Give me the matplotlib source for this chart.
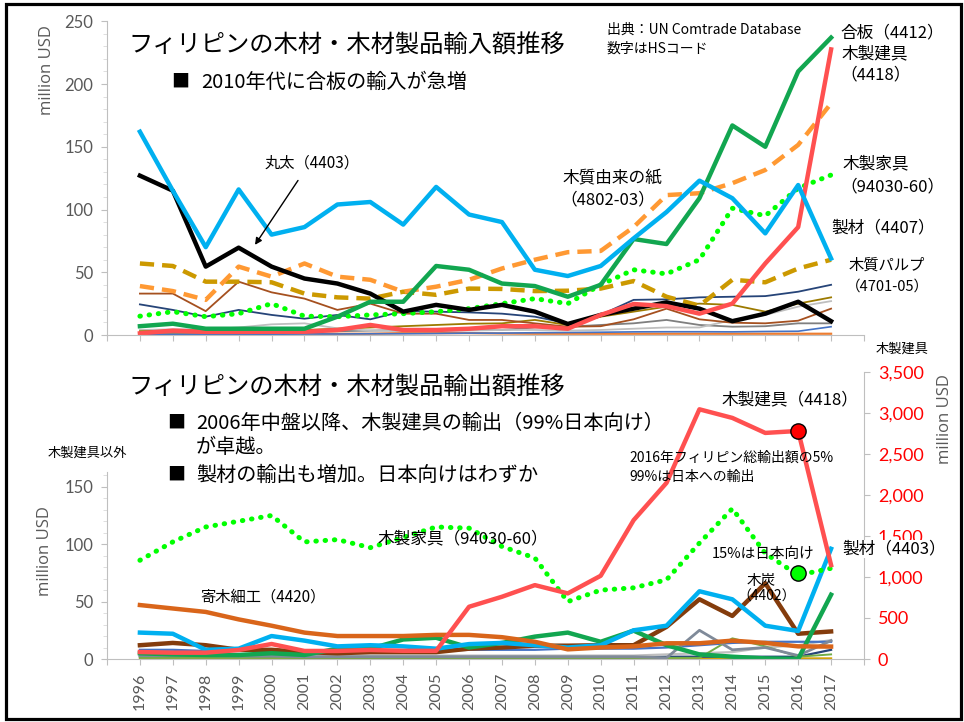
import matplotlib
matplotlib.use("Agg")
import matplotlib.pyplot as plt
from matplotlib.patches import Rectangle
from matplotlib.ticker import MultipleLocator, FixedLocator, FuncFormatter

plt.rcParams["font.family"] = ["Noto Sans CJK JP", "DejaVu Sans"]

W, H = 964, 722

years = list(range(1996, 2018))

# ---- imports (million USD) ----
imp_sawn = [162, 115, 70, 116, 80, 86, 104, 106, 88, 118, 96, 90, 52, 47, 55, 77, 98, 123, 109, 81, 119.5, 61]
imp_logs = [127, 115, 54.5, 69.6, 54.5, 45, 41, 33, 18.6, 24, 20, 24, 18.6, 8.8, 16, 21, 26, 21, 11, 17, 26.5, 11]
imp_plywood = [7, 9, 5, 5, 5, 5, 14.6, 26.5, 26.5, 55, 52, 41, 39, 30.5, 40, 76.5, 72.5, 109, 167, 150, 210, 237]
imp_joinery = [1.3, 3.5, 2.5, 2.5, 2.6, 2.6, 4, 8, 4, 4, 5, 7, 7, 5, 16, 24.7, 23, 17, 25, 57, 86, 227.6]
imp_paper = [39, 35, 28, 54.5, 46.5, 57, 46.5, 44, 34.5, 38.5, 44, 53, 60, 66, 67, 86, 111.5, 113, 121, 131.5, 151.5, 184.6]
imp_pulp = [57, 55, 42.5, 42.5, 42, 33, 30, 29, 34.5, 32, 37, 36.7, 35, 35.3, 37, 43, 30.5, 23.4, 44, 42, 53, 60]
imp_furniture = [15, 18.6, 14.6, 17, 25, 15, 14.6, 16, 17, 18.6, 21, 25, 29, 25, 40, 52, 48.7, 60, 101, 95, 117, 127.5]
imp_brown = [33, 33, 19, 42.5, 34, 29, 20, 25, 17, 17, 12, 12, 9.3, 6.6, 7, 12.5, 21, 12.5, 9.8, 9.3, 11.4, 21]
imp_navy = [24.4, 20, 14.6, 20, 16, 13, 16, 12.5, 19, 18.6, 18, 17, 14.6, 9.3, 16, 28, 28.4, 30, 30.5, 31, 34.5, 40]
imp_olive = [3, 3.5, 4, 4.5, 4.5, 4, 5, 6, 7, 8, 9, 9.3, 12, 8, 14.6, 18.6, 22.6, 25, 24, 18.6, 25, 30]
imp_lightgray = [4, 4.5, 4.5, 6, 8.5, 9.3, 5.3, 3.5, 3, 3, 3.5, 4, 4, 3.5, 4, 5, 6, 6, 12, 16, 22.6, 27]
imp_gray = [2, 2, 2, 2.5, 3, 3, 3, 3.5, 4, 4, 4, 4, 6, 6.6, 8, 9.3, 12, 8, 6.6, 7, 9.3, 9.3]
imp_blue = [0.5, 0.5, 0.5, 0.6, 0.6, 0.8, 0.8, 1, 1, 1.2, 1.5, 1.5, 1.8, 2, 2.2, 2.5, 2.6, 2.6, 2.5, 2.8, 3, 6.6]
imp_orange = [1, 1, 1, 1, 1.2, 1.2, 1, 1, 1.5, 1.5, 1.5, 1.2, 1, 1, 1, 1, 1, 1, 1, 1, 1, 1]

# ---- exports (million USD) ----
exp_joinery = [85, 77, 77, 110, 183, 98, 98, 110, 100, 100, 637, 759, 901, 800, 1015, 1693, 2148, 3045, 2940, 2757, 2781, 1145]
exp_furniture = [86, 102, 115, 120, 125, 102, 104, 97, 106, 115, 114, 98, 88, 50, 60, 62, 69, 101, 131, 92, 73, 79]
exp_parquetry = [47, 44, 41, 34.5, 29, 23, 20, 20, 20, 21, 21, 19, 15, 8.4, 10, 11, 13.7, 13.7, 16, 14, 11, 10.8]
exp_sawn = [23, 22, 8, 9, 20, 16, 11, 12, 11, 9, 13, 14, 12, 10, 12, 25, 29, 59, 52, 29, 24.4, 96]
exp_plywood = [5, 4, 3.5, 3.5, 5, 3.5, 9, 9, 17, 18.5, 10, 14, 19.5, 23, 15, 24.7, 12, 4, 2, 0.5, 0, 56]
exp_charcoal = [12, 14, 12, 8, 8, 6, 5, 6, 6, 6, 9, 10, 11.6, 11.6, 12, 12, 28, 52, 37.5, 66, 22, 24]
exp_gray = [3, 3, 3, 2.5, 2.5, 2, 2, 2, 2, 2, 2, 2, 2, 2, 2, 2, 1, 25, 8, 10, 3, 16]
exp_lightgreen = [1, 1, 1, 1, 1, 1, 1, 1, 1, 1, 1, 1, 1, 1, 1, 1, 1, 1, 18, 11, 2, 4]
exp_blue = [8, 8, 7, 7, 7, 6, 6, 7, 7, 7, 8, 8, 8, 9, 9, 9, 10, 12, 14, 15, 15, 15]
exp_navy = [2, 2, 2, 2, 2, 1.5, 1.5, 1.5, 1.5, 1.5, 1.5, 1.5, 1.5, 1.5, 1.5, 1.5, 2, 2, 2, 2, 2, 8]
exp_lightgray = [3, 3, 3, 3, 3, 3, 3, 3, 3, 3, 3, 3, 3, 3, 3, 3, 4, 5, 6, 10, 12, 16.5]
exp_gold = [0.5, 0.5, 0.5, 1, 0.5, 0.5, 0.5, 0.5, 0.5, 0.5, 0.5, 0.5, 0.5, 0.5, 0.5, 0.5, 0.5, 0.5, 0.5, 0.5, 0.5, 0.5]

GRAY = "#bfbfbf"
TXT = "#595959"
DOT = dict(linestyle=(0, (0.1, 1.75)), lw=3.6, dash_capstyle="round")
DASH = dict(linestyle=(0, (3.2, 1.8)), lw=3.2)


def px(x, y):
    return x / W, 1 - y / H


def label(x, y, s, size=12, **kw):
    return fig.text(*px(x, y), s, fontsize=size, ha="left", va="center", **kw)


def style_axes(ax):
    for s in ["top", "right"]:
        ax.spines[s].set_visible(False)
    ax.spines["left"].set_color(GRAY)
    ax.spines["bottom"].set_color(GRAY)
    ax.set_xlim(1995, 2018)
    ax.set_xticks(range(1995, 2019))
    ax.tick_params(colors=GRAY, labelcolor=TXT, direction="out", length=4,
                   labelfontfamily="Lato")
    ax.tick_params(axis="y", labelsize=12, pad=6)
    ax.tick_params(axis="y", which="minor", length=3, color="#d9d9d9")
    ax.patch.set_alpha(0)


fig = plt.figure(figsize=(W / 100, H / 100), dpi=100)

# ================= imports =================
ax1 = fig.add_axes([107 / W, 1 - 335 / H, (864 - 107) / W, (335 - 21.3) / H])
style_axes(ax1)
ax1.set_ylim(0, 250)
ax1.yaxis.set_major_locator(MultipleLocator(50))
ax1.yaxis.set_minor_locator(MultipleLocator(10))
ax1.set_xticklabels([])

ax1.plot(years, imp_orange, color="#ED7D31", lw=1.6)
ax1.plot(years, imp_blue, color="#4472C4", lw=1.2)
ax1.plot(years, imp_gray, color="#7f7f7f", lw=1.3)
ax1.plot(years, imp_lightgray, color="#bfbfbf", lw=1.3)
ax1.plot(years, imp_olive, color="#9C7A00", lw=1.3)
ax1.plot(years, imp_navy, color="#264478", lw=1.3)
ax1.plot(years, imp_brown, color="#A5501F", lw=1.3)
ax1.plot(years, imp_furniture, color="#00FF00", **DOT)
ax1.plot(years, imp_pulp, color="#CC9900", **DASH)
ax1.plot(years, imp_paper, color="#FF9933", **DASH)
ax1.plot(years, imp_logs, color="black", lw=3.2)
ax1.plot(years, imp_joinery, color="#FF5050", lw=3.2)
ax1.plot(years, imp_plywood, color="#12A650", lw=3.2)
ax1.plot(years, imp_sawn, color="#00B0F0", lw=3.2)

ax1.annotate("", xy=(1999.45, 70), xytext=(2000.85, 125),
             arrowprops=dict(arrowstyle="-|>", color="black", lw=1, mutation_scale=10))

fig.text(*px(47, 25), "million USD", rotation=90, fontsize=12, color=TXT,
         ha="center", va="top", family="Open Sans")

label(128, 46, "フィリピンの木材・木材製品輸入額推移", size=17.5)
label(171, 82, "■", size=13)
label(201, 82, "2010年代に合板の輸入が急増", size=14.5)
label(607, 30, "出典：UN Comtrade Database", size=10)
label(607, 49, "数字はHSコード", size=10)
label(840, 33, "合板（4412）", size=12)
label(842, 54, "木製建具", size=12)
label(840, 75, "（4418）", size=12)
label(563, 178, "木質由来の紙", size=12)
label(560, 200, "（4802-03）", size=12)
label(843, 164, "木製家具", size=12)
label(840, 187, "（94030-60）", size=12)
label(831, 228, "製材（4407）", size=12)
label(849, 265, "木質パルプ", size=11)
label(846, 287, "（4701-05）", size=10.5)
label(265, 163, "丸太（4403）", size=11)

# ================= exports =================
ax3 = fig.add_axes([107 / W, 1 - 659 / H, (864 - 107) / W, (659 - 372) / H])
style_axes(ax3)
ax3.set_ylim(0, 250)
ax3.yaxis.set_major_locator(FixedLocator([0, 50, 100, 150]))
ax3.yaxis.set_minor_locator(FixedLocator(list(range(0, 161, 10))))
ax3.spines["left"].set_bounds(0, 163)
ax3.set_xticklabels([""] + [str(y) for y in years] + [""], rotation=90)
ax3.tick_params(axis="x", labelsize=11.5, pad=6)

ax3.plot(years, exp_gold, color="#D4A000", lw=1.6)
ax3.plot(years, exp_navy, color="#264478", lw=1.6)
ax3.plot(years, exp_lightgray, color="#bfbfbf", lw=1.6)
ax3.plot(years, exp_blue, color="#4472C4", lw=1.6)
ax3.plot(years, exp_lightgreen, color="#70AD47", lw=1.4)
ax3.plot(years, exp_gray, color="#7F8A99", lw=2)
ax3.plot(years, exp_charcoal, color="#843C0C", lw=3.2)
ax3.plot(years, exp_plywood, color="#12A650", lw=3.2)
ax3.plot(years, exp_sawn, color="#00B0F0", lw=3.2)
ax3.plot(years, exp_parquetry, color="#D9651A", lw=3.2)
ax3.plot(years, exp_furniture, color="#00FF00", **DOT)
ax3.plot([years[-2]], [exp_furniture[-2] + 1.6], "o", ms=11, color="#00FF00",
         mec="black", mew=1, zorder=5)

ax4 = ax3.twinx()
for s in ["top", "left", "bottom"]:
    ax4.spines[s].set_visible(False)
ax4.spines["right"].set_color(GRAY)
ax4.set_ylim(0, 3500)
ax4.yaxis.set_major_locator(MultipleLocator(500))
ax4.yaxis.set_major_formatter(FuncFormatter(lambda v, p: f"{int(v):,}"))
ax4.tick_params(axis="y", colors=GRAY, labelcolor="#FF0000", labelsize=13,
                length=4, labelfontfamily="Lato", pad=6)
ax4.plot(years, exp_joinery, color="#FF5050", lw=3.2)
ax4.plot([years[-2]], [exp_joinery[-2]], "o", ms=11, color="#FF0000",
         mec="black", mew=1, zorder=5)

fig.text(*px(45, 551), "million USD", rotation=90, fontsize=12, color=TXT,
         ha="center", va="center", family="Open Sans")
fig.text(*px(945, 419), "million USD", rotation=90, fontsize=12, color=TXT,
         ha="center", va="center", family="Open Sans")

label(128, 388, "フィリピンの木材・木材製品輸出額推移", size=17.5)
label(167, 423, "■", size=13)
label(196, 423, "2006年中盤以降、木製建具の輸出（99%日本向け）", size=14.5)
label(196, 448, "が卓越。", size=14.5)
label(167, 475, "■", size=13)
label(196, 475, "製材の輸出も増加。日本向けはわずか", size=14.5)
label(48, 453, "木製建具以外", size=9.5)
label(876, 349, "木製建具", size=9.5)
label(722, 400, "木製建具（4418）", size=12)
label(629, 458, "2016年フィリピン総輸出額の5%", size=10)
label(629, 477, "99%は日本への輸出", size=10)
label(378, 539, "木製家具（94030-60）", size=12)
label(712, 554, "15%は日本向け", size=10.5)
label(842, 549, "製材（4403）", size=12, zorder=10,
      bbox=dict(facecolor="white", edgecolor="none", pad=0.5))
label(747, 581, "木炭", size=10.5)
label(737, 597, "（4402）", size=10)
label(200, 597, "寄木細工（4420）", size=11)

fig.add_artist(Rectangle(px(6, 719), 955 / W, 715 / H, transform=fig.transFigure,
                         fill=False, ec="black", lw=2.3))

fig.savefig("out.png", dpi=100)
